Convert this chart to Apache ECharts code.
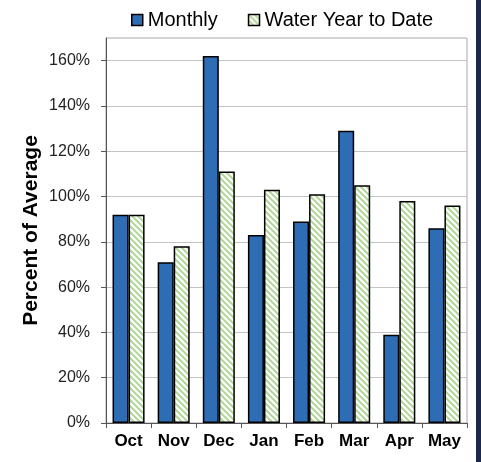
<!DOCTYPE html>
<html>
<head>
<meta charset="utf-8">
<script src="https://cdn.jsdelivr.net/npm/echarts@6/dist/echarts.min.js"></script>
<style>
  html, body { margin: 0; padding: 0; background: #fff; }
  #chart { width: 481px; height: 462px; }
  #edge { position: absolute; left: 476px; top: 0; width: 5px; height: 462px; background: #1c2848; }
</style>
</head>
<body>
<div id="chart"></div>
<div id="edge"></div>
<script>
const months = ['Oct', 'Nov', 'Dec', 'Jan', 'Feb', 'Mar', 'Apr', 'May'];
const monthly = [92, 71, 162, 83, 89, 129, 39, 86];
const yearToDate = [92, 78, 111, 103, 101, 105, 98, 96];
const yTicks = [0, 20, 40, 60, 80, 100, 120, 140, 160];

// light green diagonal hatch like the excel fill
function makeHatch() {
  const c = document.createElement('canvas');
  c.width = 6;
  c.height = 6;
  const ctx = c.getContext('2d');
  ctx.fillStyle = '#ffffff';
  ctx.fillRect(0, 0, 6, 6);
  ctx.strokeStyle = '#b3d699';
  ctx.lineWidth = 2;
  ctx.beginPath();
  ctx.moveTo(-1, -1); ctx.lineTo(7, 7);
  ctx.moveTo(-4, 2); ctx.lineTo(4, 10);
  ctx.moveTo(2, -4); ctx.lineTo(10, 4);
  ctx.stroke();
  return c;
}

const chart = echarts.init(document.getElementById('chart'));
const font = 'Arial, "Liberation Sans", sans-serif';

chart.setOption({
  animation: false,
  backgroundColor: '#fff',
  textStyle: {fontFamily: font},
  legend: {
    top: 5,
    left: 126,
    icon: 'rect',
    itemWidth: 11,
    itemHeight: 11,
    itemGap: 30,
    textStyle: {fontSize: 20, color: '#000', fontFamily: font},
    data: [
      {name: 'Monthly', itemStyle: {color: '#2e6db4', borderColor: '#000', borderWidth: 1.5}},
      {name: 'Water Year to Date', itemStyle: {color: {image: makeHatch(), repeat: 'repeat'}, borderColor: '#000', borderWidth: 1.5}}
    ]
  },
  grid: {
    left: 106,
    right: 14,
    top: 38,
    bottom: 39,
    show: true,
    borderColor: '#a8a8a8',
    borderWidth: 1
  },
  xAxis: {
    type: 'category',
    data: months,
    axisLine: {lineStyle: {color: '#555', width: 1}},
    axisTick: {show: true, length: 5, lineStyle: {color: '#555'}},
    axisLabel: {fontSize: 17, fontWeight: 'bold', color: '#000', margin: 10, fontFamily: font}
  },
  yAxis: {
    type: 'value',
    min: 0,
    max: 170,
    interval: 10,
    name: 'Percent of Average',
    nameLocation: 'middle',
    nameGap: 64,
    nameMoveOverlap: false,
    nameTextStyle: {fontSize: 21, fontWeight: 'bold', color: '#000', fontFamily: font},
    axisLine: {show: true, lineStyle: {color: '#555', width: 1}},
    axisTick: {show: true, length: 5, lineStyle: {color: '#555'}, customValues: yTicks},
    axisLabel: {
      fontSize: 16,
      color: '#222',
      margin: 16,
      customValues: yTicks,
      formatter: v => v + '%'
    },
    splitLine: {show: true, lineStyle: {color: '#c4c4c4', width: 1}}
  },
  series: [
    {
      name: 'Monthly',
      type: 'bar',
      data: monthly,
      barGap: '0%',
      barCategoryGap: '29%',
      itemStyle: {color: '#2e6db4', borderColor: '#000', borderWidth: 1.5}
    },
    {
      name: 'Water Year to Date',
      type: 'bar',
      data: yearToDate,
      itemStyle: {color: {image: makeHatch(), repeat: 'repeat'}, borderColor: '#000', borderWidth: 1.5}
    }
  ]
});
</script>
</body>
</html>
